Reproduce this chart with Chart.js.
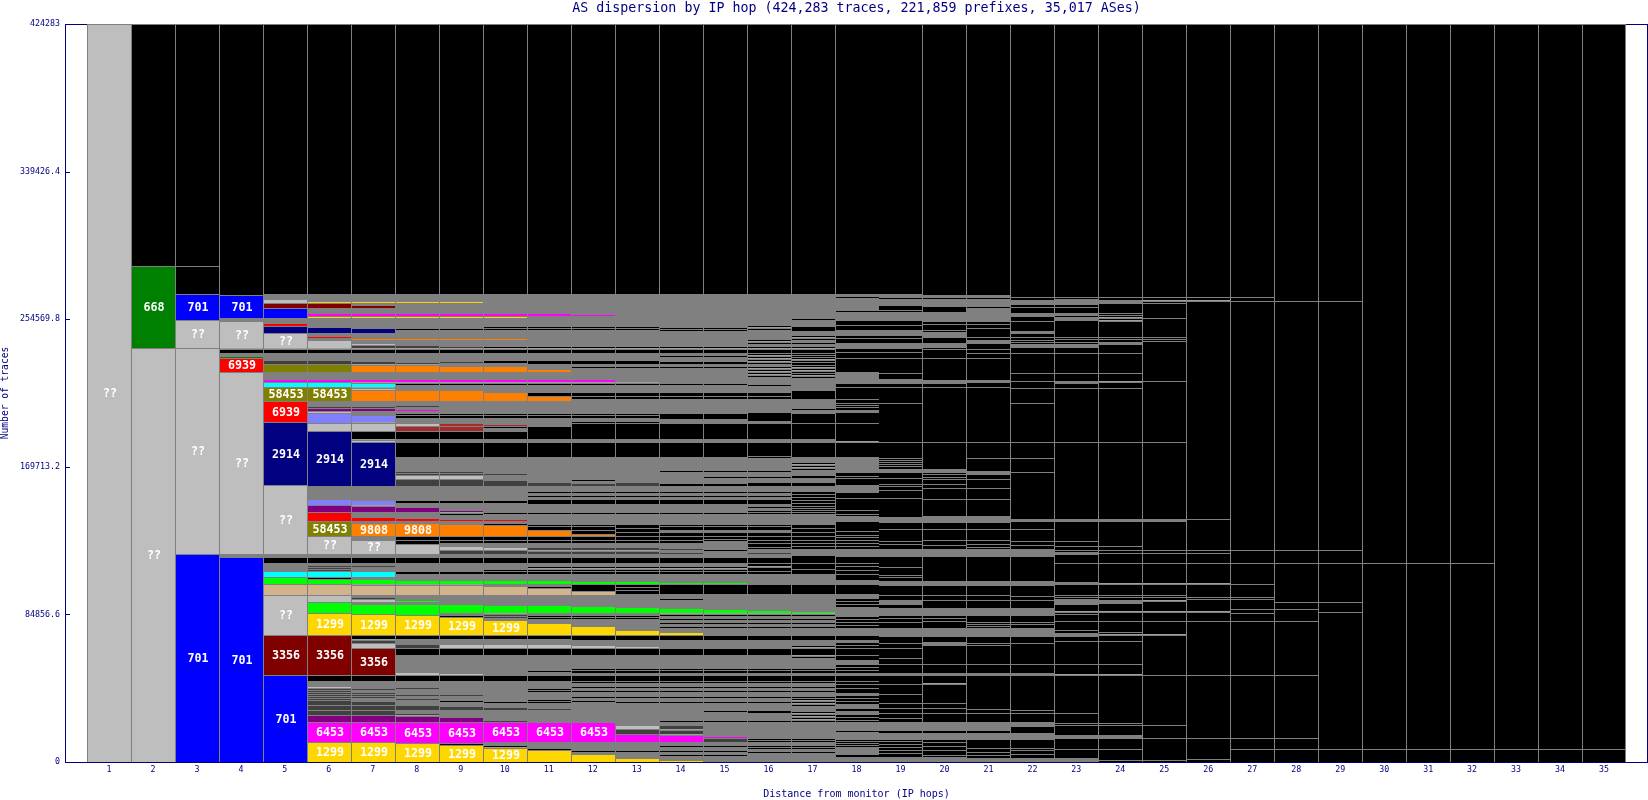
<!DOCTYPE html>
<html>
<head>
<meta charset="utf-8">
<title>AS dispersion by IP hop</title>
<script src="https://cdn.jsdelivr.net/npm/chart.js@4"></script>
<style>
  body { margin: 0; background: #fff; }
  canvas { display: block; }
</style>
</head>
<body>
<canvas id="chart" width="1648" height="800"></canvas>
<script>
const totalTraces = 424283;
const yTicks = [0, 84856.6, 169713.2, 254569.8, 339426.4, 424283];
const hopLabels = ['', '1', '2', '3', '4', '5', '6', '7', '8', '9', '10', '11', '12', '13', '14', '15', '16', '17', '18', '19', '20', '21', '22', '23', '24', '25', '26', '27', '28', '29', '30', '31', '32', '33', '34', '35', ''];

// each hop: AS name, traces, AS name, traces ... from the bottom of the stack up
// g = many tiny ASes, k = one small AS, d/c/l/t/p/v/b = unnamed ASes
const hop1 = ['??', 424283];
const hop2 = ['??', 238050, '668', 47150];
const hop3 = ['701', 119600, '??', 118450, '??', 16100, '701', 14950, 'k', 16100];
const hop4 = ['701', 117875, 'g', 1725, '??', 104650, '6939', 8050, '668', 1150, 'g', 1725, 'k', 2300, 'g', 575, '??', 15525, 'g', 1725, '701', 13225];
const hop5 = ['701', 50025, '3356', 23000, '??', 23000, 't', 6325, 'l', 4025, 'c', 3450, 'g', 4600, 'k', 3450, 'g', 1725, '??', 39675, '2914', 36225, '6939', 12075, '58453', 8050, 'c', 2875, '6453', 1725, 'g', 4025, '58453', 4600, 'd', 2300, 'g', 4025, 'k', 2300, 'g', 575, '??', 8625, '2914', 4025, '6939', 1725, 'g', 2875, '701', 5750, '3356', 2875, '??', 2300, 'g', 2875];
const hop6 = ['1299', 11500, '6453', 11500, 'v', 4025, 'd', 2875, 'd', 2875, 'd', 2875, 'd', 1150, 'd', 1150, 'd', 1150, 'd', 1150, 'd', 1150, 'd', 1150, '??', 1150, 'g', 2875, 'k', 3450, '3356', 23000, '1299', 12650, 'l', 6325, '??', 4025, 't', 6325, 'l', 2875, 'k', 1150, 'c', 3450, 'd', 1150, 'd', 1150, 'd', 1150, 'g', 1150, 'k', 3450, 'g', 1725, '??', 10350, '58453', 8625, '6939', 5175, 'v', 4025, 'p', 3450, 'g', 7475, '2914', 31625, '??', 4600, 'p', 5750, '??', 1150, 'v', 1725, 'd', 1150, 'g', 2875, '58453', 8050, 'c', 2875, '6453', 1725, 'g', 4025, '58453', 4600, 'd', 2300, 'g', 4025, 'k', 2300, 'g', 575, '??', 4600, 'g', 1150, '6939', 1150, 'g', 1725, '2914', 3450, 'g', 5175, '1299', 1150, '6453', 1725, 'g', 2875, '3356', 2875, '1299', 1150, 'g', 4025];
const hop7 = ['1299', 11500, '6453', 11500, 'v', 4025, 'd', 2875, 'd', 2875, 'd', 2300, 'g', 1725, 'd', 1150, 'd', 1150, 'd', 1150, 'g', 1150, 'd', 1150, 'g', 4025, 'k', 3450, '3356', 15525, '??', 2875, 'd', 1725, 'g', 575, 'k', 2300, '1299', 12075, 'l', 5750, 'g', 1150, '??', 1725, 'd', 1150, 'g', 1150, 't', 5750, 'g', 575, 'l', 2875, 'g', 1150, 'c', 3450, 'g', 2300, 'd', 1150, 'g', 1150, 'k', 3450, 'g', 1725, '??', 8050, 'g', 2300, '9808', 7475, 'g', 1150, '6939', 2300, 'g', 2875, 'v', 3450, 'g', 575, 'p', 2875, 'g', 8050, '2914', 25300, '??', 1150, 'g', 575, 'k', 4600, '??', 4600, 'g', 575, 'p', 4025, 'g', 2300, 'v', 1725, 'd', 1150, 'g', 2875, '9808', 6325, '??', 1150, 'g', 575, 'c', 2300, 'g', 575, '6453', 1725, 'g', 4025, '9808', 4025, 'g', 575, 'd', 1725, 'g', 4600, 'k', 2300, 'g', 575, 'd', 1725, '??', 1150, 'g', 1725, '9808', 1150, 'g', 2875, '2914', 2875, 'g', 5750, '1299', 1150, '6453', 1725, 'g', 2875, '3356', 1725, 'g', 1150, '1299', 1150, 'g', 4025];
const hop8 = ['1299', 10925, '6453', 12075, 'v', 3450, 'g', 575, 'd', 1150, 'g', 1725, 'd', 2875, 'g', 2875, 'd', 1150, 'g', 1150, 'd', 1150, 'g', 2875, 'd', 1150, 'g', 3450, 'k', 3450, '??', 1725, 'g', 9775, 'k', 4025, 'd', 2300, 'g', 2875, 'k', 2300, '1299', 11500, 'l', 6325, 'g', 1150, 'l', 1150, 'g', 2875, 't', 5750, 'g', 575, 'l', 2300, 'g', 3450, 'k', 1725, 'g', 4600, 'k', 3450, 'g', 1725, '??', 5750, 'k', 2300, 'k', 2300, '9808', 7475, 'g', 1150, '6939', 1725, 'g', 3450, 'v', 2875, 'g', 2300, 'k', 1725, 'g', 8050, 'd', 4025, '??', 2300, 'd', 1150, 'd', 1150, 'g', 8050, 'k', 8625, 'g', 1725, 'k', 4600, 'b', 2875, '??', 1725, 'g', 2875, 'k', 1725, 'k', 1150, 'g', 1150, '6453', 1150, 'g', 1150, 'd', 1150, 'g', 2300, '9808', 6325, 'g', 2875, 'k', 1150, 'g', 575, '6453', 1725, 'g', 4025, '9808', 4025, 'g', 575, 'd', 1150, 'g', 5175, 'k', 2300, 'g', 575, 'd', 1725, 'g', 2875, '9808', 1150, 'g', 4600, 'k', 1150, 'g', 5750, '1299', 1150, '6453', 1725, 'g', 5750, '1299', 1150, 'g', 4025];
const hop9 = ['1299', 9775, 'k', 1150, '6453', 12075, 'v', 2875, 'g', 4025, 'd', 2300, 'g', 2300, 'k', 1150, 'g', 2300, 'd', 1150, 'g', 7475, 'k', 3450, '??', 1150, 'g', 10350, 'k', 4025, '??', 2300, 'g', 2875, 'k', 2300, '1299', 10350, 'k', 1150, 'g', 1150, 'l', 5175, 'g', 5175, 't', 5750, 'g', 575, 'l', 2300, 'g', 3450, 'k', 1725, 'g', 4600, 'k', 3450, 'g', 1725, 'd', 2300, '??', 2300, 'g', 1725, 'k', 1725, 'k', 2300, '9808', 6900, 'g', 1725, '6939', 1150, 'g', 2300, 'k', 1150, 'g', 575, 'v', 1150, 'g', 4025, 'k', 1725, 'g', 8050, 'd', 4025, '??', 2300, 'd', 1150, 'd', 1150, 'g', 8050, 'k', 8625, 'g', 1725, 'k', 4600, 'b', 2875, 'b', 1725, 'g', 2875, 'k', 1725, 'k', 1150, 'g', 6900, '9808', 6325, 'g', 2875, 'k', 1150, 'g', 575, '6453', 1725, 'g', 4025, '9808', 3450, 'g', 1725, 'd', 1150, 'g', 4600, 'k', 2300, 'g', 575, 'd', 1150, 'g', 3450, '9808', 1150, 'g', 4600, 'k', 1150, 'g', 5750, '1299', 1150, '6453', 1725, 'g', 5750, '1299', 1150, 'g', 4025];
const hop10 = ['1299', 8050, 'g', 575, 'k', 1150, 'g', 1725, '6453', 11500, 'd', 1150, 'g', 5750, 'd', 1725, 'g', 2300, 'k', 1150, 'g', 11500, 'k', 3450, 'g', 11500, 'k', 4025, '??', 2300, 'g', 2875, 'k', 2300, '1299', 8625, 'g', 1150, 'd', 1150, 'd', 1150, 'g', 575, 'l', 4600, 'g', 5750, 't', 5175, 'g', 1150, 'l', 2300, 'g', 3450, 'k', 1725, 'k', 1150, 'g', 3450, 'k', 3450, 'g', 1725, 'd', 2300, '??', 1725, 'g', 2300, 'k', 1725, 'k', 2300, '9808', 6325, 'k', 1150, 'g', 1150, '6939', 1150, 'g', 2875, 'k', 1150, 'g', 5175, 'k', 1725, 'g', 8050, 'd', 3450, 'g', 2875, 'd', 1150, 'g', 9200, 'k', 8625, 'g', 1725, 'k', 4600, 'g', 1725, 'k', 1150, 'b', 1150, 'g', 3450, 'k', 1725, 'k', 1150, 'g', 6900, '9808', 5175, 'g', 4025, 'k', 1150, 'g', 575, '6453', 1725, 'g', 4025, '9808', 3450, 'g', 1725, 'k', 1725, 'g', 4025, 'k', 2300, 'g', 575, 'k', 1150, 'g', 3450, '9808', 1150, 'g', 4600, 'k', 1150, 'k', 1150, 'g', 4600, '1299', 1150, '6453', 1725, 'g', 10925];
const hop11 = ['1299', 6900, 'k', 1150, 'g', 3450, '6453', 11500, 'g', 6900, 'd', 1150, 'g', 2875, 'k', 1150, 'k', 1150, 'g', 4025, 'k', 1150, 'k', 1150, 'g', 4025, 'k', 3450, 'g', 1725, 'k', 1150, 'g', 8625, 'k', 4025, '??', 2300, 'g', 2875, 'k', 2300, '1299', 6900, 'g', 2300, 'k', 1150, 'k', 1150, 'g', 1150, 'l', 4600, 'g', 5750, 't', 4025, 'k', 1150, 'g', 1150, 'l', 2300, 'g', 3450, 'k', 1725, 'k', 1150, 'g', 575, 'k', 1150, 'g', 1725, 'k', 3450, 'g', 1725, 'd', 1725, 'g', 575, 'd', 1725, 'g', 2300, 'k', 1725, 'k', 2300, '9808', 3450, 'k', 2300, 'k', 1150, 'g', 5750, 'k', 1150, 'g', 4600, 'k', 2875, 'g', 1150, 'k', 1150, 'g', 1150, 'k', 1150, 'g', 2875, 'd', 2300, 'g', 14375, 'k', 8625, 'g', 1725, 'k', 7475, 'g', 4600, 'k', 1725, 'k', 1150, 'g', 6900, '9808', 2875, 'k', 2300, 'g', 4025, 'k', 1150, 'g', 575, '6453', 1725, 'g', 4025, '9808', 1725, 'g', 2875, 'k', 2300, 'g', 4025, 'k', 2300, 'g', 575, 'k', 1150, 'g', 9200, 'k', 1150, 'k', 1150, 'g', 5750, '6453', 1725, 'g', 10925];
const hop12 = ['1299', 4600, 'g', 1150, 'k', 1150, 'g', 4600, '6453', 11500, 'g', 11500, 'k', 1150, 'g', 1150, 'k', 1150, 'g', 2300, 'k', 1150, 'g', 1150, 'k', 1150, 'g', 1725, 'k', 1150, 'k', 3450, 'g', 1150, 'k', 1725, 'k', 1150, 'g', 7475, 'k', 4025, '??', 1725, 'g', 2875, 'k', 2875, '1299', 5175, 'g', 4025, 'k', 1150, 'k', 1150, 'g', 1150, 'l', 4025, 'g', 6325, 't', 2300, 'k', 4025, 'l', 1725, 'g', 4025, 'k', 1725, 'k', 1150, 'g', 575, 'k', 1150, 'g', 1725, 'k', 3450, 'g', 1725, 'd', 1725, 'g', 575, 'd', 1725, 'g', 2300, 'k', 1725, 'k', 2300, '9808', 1150, 'k', 2300, 'k', 2300, 'k', 1150, 'g', 5750, 'k', 1150, 'g', 4600, 'k', 2875, 'g', 1150, 'k', 1150, 'g', 1150, 'k', 1150, 'g', 2875, 'd', 1725, 'g', 1150, 'k', 1150, 'g', 12650, 'k', 8625, 'g', 1725, 'k', 9200, 'k', 1150, 'g', 1725, 'k', 1725, 'k', 1150, 'g', 8050, 'k', 1725, 'k', 2300, 'g', 4025, 'k', 1150, 'g', 575, '6453', 1725, 'g', 6325, 'k', 1150, 'g', 1150, 'k', 2300, 'g', 4025, 'k', 2300, 'g', 575, 'k', 1150, 'g', 9200, 'k', 1150, 'k', 1150, 'g', 5750, '6453', 1150, 'g', 11500];
const hop13 = ['1299', 2300, 'g', 3450, 'k', 1150, 'g', 4600, '6453', 4600, 'd', 2875, '??', 2300, 'g', 12650, 'k', 1150, 'g', 1725, 'k', 1150, 'g', 2300, 'k', 1150, 'g', 1150, 'k', 1150, 'g', 1725, 'k', 1150, 'k', 3450, 'g', 1150, 'k', 1725, 'k', 1150, 'g', 7475, 'k', 4025, '??', 1150, 'g', 3450, 'k', 2875, '1299', 2875, 'g', 6325, 'k', 1150, 'k', 1150, 'g', 1150, 'l', 3450, 'g', 7475, 'k', 2300, 'k', 1725, 'k', 1725, 'l', 1725, 'g', 4025, 'k', 1725, 'k', 1150, 'g', 575, 'k', 1150, 'g', 1725, 'k', 3450, 'g', 1725, 'd', 1725, 'g', 575, 'd', 1725, 'g', 2300, 'k', 1725, 'k', 2300, 'k', 2300, 'k', 2300, 'k', 2300, 'g', 5750, 'k', 1150, 'g', 4600, 'k', 2875, 'g', 1150, 'k', 1150, 'g', 1150, 'k', 1150, 'g', 2875, 'd', 2300, 'g', 14375, 'k', 8625, 'g', 1725, 'k', 9200, 'k', 1150, 'g', 1725, 'k', 1725, 'k', 1150, 'g', 8050, 'k', 1725, 'k', 2300, 'g', 4025, 'k', 1150, 'g', 575, 'g', 8050, 'k', 1150, 'g', 1150, 'k', 2300, 'g', 4025, 'k', 2300, 'g', 575, 'k', 1150, 'g', 9200, 'k', 1150, 'k', 1150, 'g', 18400];
const hop14 = ['1299', 1150, 'g', 2300, 'k', 1150, 'g', 1150, 'k', 1150, 'g', 1725, 'k', 1150, 'g', 1725, '6453', 4025, 'g', 575, 'd', 2300, 'g', 575, 'd', 2300, 'g', 1725, 'k', 1150, 'g', 9775, 'k', 1150, 'g', 1725, 'k', 1150, 'g', 2300, 'k', 1150, 'g', 1150, 'k', 1150, 'g', 1725, 'k', 1150, 'k', 3450, 'g', 1150, 'k', 1725, 'k', 1150, 'g', 7475, 'k', 4025, 'g', 4600, 'k', 2875, '1299', 1725, 'g', 2300, 'k', 1150, 'g', 1150, 'k', 1150, 'g', 1150, 'k', 1150, 'g', 1150, 'k', 1150, 'g', 575, 'l', 2875, 'g', 4600, 'k', 1150, 'g', 2300, 'k', 5750, 'l', 1150, 'g', 4600, 'k', 1725, 'k', 1150, 'g', 575, 'k', 1150, 'g', 1725, 'k', 3450, 'g', 1725, 'd', 1150, 'g', 1150, 'd', 1150, 'g', 2875, 'k', 1725, 'k', 2300, 'k', 2300, 'g', 1150, 'k', 2300, 'k', 1150, 'g', 5750, 'k', 1150, 'g', 4600, 'k', 2875, 'g', 1150, 'k', 1150, 'g', 1150, 'k', 1150, 'g', 2875, 'k', 1725, 'g', 6325, 'k', 1150, 'g', 7475, 'k', 8625, 'g', 1725, 'k', 9200, 'g', 2300, 'k', 3450, 'g', 8050, 'k', 1725, 'k', 2300, 'g', 4025, 'k', 1150, 'g', 8625, 'k', 1150, 'g', 1150, 'k', 1725, 'g', 2300, 'k', 1150, 'g', 1150, 'k', 2300, 'g', 575, 'k', 1150, 'g', 8625, 'k', 1150, 'k', 1150, 'g', 18975];
const hop15 = ['g', 3450, 'k', 1150, 'g', 1150, 'k', 1150, 'g', 1725, 'k', 1150, 'g', 1725, 'd', 2300, '6453', 1150, 'g', 8050, 'k', 1150, 'g', 4600, 'k', 1150, 'g', 4025, 'k', 1150, 'g', 1725, 'k', 1150, 'g', 2300, 'k', 1150, 'g', 1150, 'k', 1150, 'g', 1725, 'k', 1150, 'k', 3450, 'g', 1150, 'k', 1725, 'k', 1150, 'g', 7475, 'k', 4025, 'g', 4600, 'k', 2875, 'g', 4025, 'k', 1150, 'g', 1150, 'k', 1150, 'g', 1150, 'k', 1150, 'g', 1150, 'k', 1150, 'g', 575, 'l', 2300, 'g', 8625, 'k', 5750, 'l', 1150, 'g', 4600, 'k', 1725, 'k', 1150, 'g', 575, 'k', 1150, 'g', 1725, 'k', 3450, 'g', 1725, 'g', 1725, 'k', 1150, 'g', 2300, 'g', 2300, 'k', 1150, 'k', 1725, 'k', 2300, 'g', 1150, 'k', 2300, 'k', 1150, 'g', 5750, 'k', 1150, 'g', 4600, 'k', 2875, 'g', 1150, 'k', 1150, 'g', 1150, 'k', 1150, 'g', 2875, 'k', 1725, 'g', 2875, 'k', 1150, 'g', 2300, 'k', 1150, 'g', 7475, 'k', 8625, 'g', 1725, 'k', 9200, 'g', 2300, 'k', 3450, 'g', 8050, 'k', 1725, 'k', 2300, 'g', 4025, 'k', 1150, 'g', 8625, 'k', 1150, 'g', 1150, 'k', 1725, 'g', 2300, 'k', 1150, 'g', 1150, 'k', 2300, 'g', 575, 'k', 1150, 'g', 8625, 'k', 1150, 'k', 1150, 'g', 18975];
const hop16 = ['g', 5175, 'k', 1150, 'g', 1150, 'k', 1150, 'k', 1150, 'g', 1725, 'k', 1150, 'k', 1150, 'g', 9200, 'k', 1150, 'g', 4025, 'k', 1725, 'g', 4025, 'k', 1150, 'g', 1725, 'k', 1150, 'g', 2300, 'k', 1150, 'g', 1150, 'k', 1150, 'g', 1725, 'k', 1150, 'k', 3450, 'g', 1150, 'k', 1725, 'k', 1150, 'g', 7475, 'k', 4025, 'g', 4600, 'k', 2875, 'g', 4025, 'k', 1150, 'g', 1150, 'k', 1150, 'g', 1150, 'k', 1150, 'g', 1150, 'k', 1150, 'g', 575, 'l', 1725, 'g', 9200, 'k', 5750, 'g', 5750, 'k', 1725, 'k', 2300, 'g', 575, 'k', 1725, 'k', 3450, 'g', 1725, 'd', 1150, 'g', 1725, 'k', 1150, 'k', 2300, 'k', 1725, 'k', 2300, 'k', 2300, 'g', 1150, 'k', 2300, 'k', 1150, 'g', 5750, 'k', 1150, 'k', 1150, 'g', 1150, 'k', 1150, 'g', 1150, 'k', 2875, 'g', 1150, 'k', 1150, 'g', 1150, 'k', 1150, 'g', 2875, 'k', 2300, 'g', 2300, 'k', 1150, 'g', 2300, 'k', 1150, 'g', 6900, 'k', 1150, 'k', 8050, 'g', 1725, 'k', 9200, 'g', 1150, 'k', 5175, 'g', 7475, 'k', 1725, 'k', 2300, 'g', 3450, 'k', 1150, 'g', 4025, 'k', 1150, 'g', 575, 'k', 1150, 'g', 575, 'k', 1150, 'g', 575, 'k', 1150, 'g', 1150, 'k', 1150, 'g', 575, 'k', 1150, 'g', 575, 'k', 1150, 'g', 575, 'k', 1150, 'k', 2300, 'g', 575, 'k', 1150, 'g', 1150, 'k', 1150, 'g', 575, 'k', 1150, 'g', 5175, 'k', 1150, 'g', 575, 'k', 1150, 'g', 17825];
const hop17 = ['g', 5175, 'k', 1150, 'g', 1150, 'k', 1150, 'k', 1150, 'g', 1725, 'k', 1150, 'k', 1150, 'g', 9200, 'k', 1150, 'g', 575, 'k', 1150, 'g', 575, 'k', 1150, 'g', 575, 'k', 1150, 'g', 2875, 'k', 1150, 'g', 575, 'k', 1150, 'g', 575, 'k', 1150, 'k', 1150, 'g', 2300, 'k', 1150, 'g', 1150, 'k', 1150, 'g', 1725, 'k', 1150, 'k', 3450, 'g', 1150, 'k', 1725, 'k', 1150, 'g', 5750, 'k', 1150, 'g', 575, 'k', 4025, 'g', 575, 'k', 1150, 'g', 2875, 'k', 2875, 'g', 4025, 'k', 1150, 'g', 1150, 'k', 1150, 'g', 1150, 'k', 1150, 'g', 1150, 'k', 1150, 'g', 575, 'l', 1150, 'g', 9775, 'k', 5750, 'g', 5750, 'k', 2875, 'k', 3450, 'k', 4600, 'g', 3450, 'k', 1725, 'k', 1725, 'k', 1725, 'k', 2300, 'k', 2300, 'k', 2300, 'k', 2300, 'g', 5750, 'k', 1150, 'k', 1150, 'k', 1150, 'k', 1150, 'k', 1725, 'k', 1725, 'k', 1725, 'k', 1725, 'k', 1725, 'g', 2875, 'k', 2300, 'g', 2300, 'k', 1725, 'g', 2875, 'k', 1150, 'g', 575, 'k', 1150, 'g', 575, 'k', 1150, 'g', 2875, 'k', 8625, 'g', 1725, 'k', 9200, 'k', 5750, 'g', 1725, 'k', 1150, 'g', 5175, 'k', 5175, 'g', 6900, 'k', 1150, 'g', 575, 'k', 1150, 'k', 1150, 'g', 575, 'k', 1150, 'g', 575, 'k', 1150, 'k', 1725, 'k', 1150, 'g', 575, 'k', 1150, 'k', 1150, 'k', 1150, 'k', 2300, 'g', 575, 'k', 1150, 'g', 1150, 'k', 1150, 'g', 1150, 'k', 1150, 'g', 575, 'k', 1150, 'g', 2300, 'k', 2875, 'g', 3450, 'k', 1150, 'g', 13800];
const hop18 = ['g', 2875, 'k', 1725, 'g', 4025, 'k', 1150, 'k', 1150, 'k', 1150, 'k', 1150, 'g', 4025, 'k', 1150, 'g', 4600, 'k', 1150, 'k', 1725, 'k', 1725, 'g', 1725, 'k', 1725, 'g', 2300, 'k', 1725, 'k', 1725, 'k', 1725, 'g', 1150, 'k', 2875, 'k', 2300, 'k', 1725, 'k', 3450, 'g', 1150, 'k', 1725, 'k', 1725, 'k', 1725, 'g', 2300, 'k', 2875, 'k', 4025, 'k', 1725, 'k', 1725, 'g', 1150, 'k', 2875, 'g', 4025, 'k', 1725, 'k', 1725, 'k', 1725, 'k', 1725, 'g', 5175, 'k', 1725, 'k', 1725, 'k', 1725, 'g', 2300, 'k', 5750, 'g', 2300, 'k', 3450, 'k', 2300, 'k', 2300, 'k', 1725, 'k', 4025, 'g', 4025, 'k', 1725, 'k', 1725, 'k', 1725, 'k', 1725, 'k', 1150, 'k', 2300, 'k', 5750, 'g', 2875, 'k', 1150, 'k', 2300, 'k', 6900, 'k', 3450, 'g', 4025, 'k', 4025, 'k', 1150, 'k', 2300, 'g', 2300, 'g', 6325, 'k', 8625, 'g', 575, 'k', 10350, 'k', 6325, 'g', 1150, 'k', 1725, 'k', 1150, 'k', 1150, 'k', 2300, 'k', 6900, 'k', 2300, 'g', 2300, 'g', 4025, 'k', 8050, 'k', 3450, 'k', 2300, 'g', 2875, 'k', 2875, 'k', 1725, 'g', 2875, 'k', 2875, 'k', 2875, 'g', 4600, 'k', 1150, 'g', 6900, 'k', 1150, 'g', 1150];
const hop19 = ['g', 2875, 'k', 2300, 'k', 1725, 'k', 1725, 'k', 1725, 'k', 1725, 'k', 1150, 'g', 3450, 'k', 1725, 'g', 4600, 'k', 2300, 'k', 2875, 'k', 2875, 'k', 2875, 'k', 5175, 'k', 5750, 'k', 5175, 'g', 1150, 'k', 5175, 'k', 3450, 'k', 5750, 'k', 2875, 'k', 4025, 'g', 4600, 'k', 3450, 'k', 2300, 'k', 1725, 'g', 4025, 'k', 2300, 'g', 2300, 'k', 2875, 'k', 5750, 'g', 2300, 'k', 2300, 'k', 1150, 'k', 4600, 'k', 6325, 'g', 4025, 'k', 2875, 'k', 1725, 'k', 6900, 'k', 4025, 'g', 2875, 'k', 10925, 'k', 4600, 'k', 2300, 'k', 1150, 'k', 3450, 'k', 3450, 'g', 1725, 'k', 1725, 'k', 1150, 'k', 1150, 'k', 1150, 'k', 1150, 'k', 9200, 'k', 22425, 'k', 9200, 'k', 2300, 'g', 2300, 'k', 3450, 'k', 8625, 'k', 3450, 'k', 2300, 'g', 2875, 'k', 2875, 'k', 1725, 'g', 2875, 'k', 2875, 'k', 2875, 'g', 4600, 'k', 1150, 'k', 2875, 'g', 3450, 'k', 1150, 'g', 1725];
const hop20 = ['g', 2875, 'k', 1150, 'k', 2875, 'k', 2300, 'k', 2300, 'k', 1725, 'g', 3450, 'k', 1725, 'g', 4600, 'k', 5175, 'k', 2875, 'k', 2875, 'k', 10925, 'g', 575, 'k', 4600, 'g', 1150, 'k', 5175, 'k', 10925, 'g', 1725, 'k', 3450, 'g', 4600, 'k', 4025, 'k', 1725, 'k', 1725, 'g', 4025, 'k', 4600, 'k', 2875, 'k', 5750, 'g', 2300, 'k', 14375, 'g', 4025, 'k', 2300, 'k', 2875, 'k', 6325, 'k', 4025, 'g', 3450, 'k', 9775, 'k', 6325, 'k', 2300, 'k', 2875, 'k', 1150, 'k', 1725, 'k', 1150, 'g', 1725, 'k', 15525, 'k', 31625, 'k', 2300, 'g', 1725, 'k', 12650, 'k', 5175, 'k', 1150, 'g', 2300, 'k', 3450, 'g', 2875, 'k', 1150, 'k', 3450, 'k', 1725, 'g', 5175, 'k', 3450, 'g', 4025, 'k', 1150, 'g', 1150];
const hop21 = ['g', 2300, 'k', 1725, 'k', 1725, 'k', 2300, 'k', 5175, 'g', 3450, 'k', 1725, 'g', 4600, 'k', 5175, 'k', 2300, 'k', 19550, 'g', 1150, 'k', 5175, 'k', 10925, 'k', 1150, 'k', 4025, 'g', 4600, 'k', 1150, 'k', 1150, 'k', 1150, 'k', 4025, 'g', 4025, 'k', 4600, 'k', 2875, 'k', 5750, 'g', 2300, 'k', 14375, 'g', 4025, 'k', 1150, 'k', 1725, 'k', 2300, 'k', 6325, 'k', 4025, 'g', 3450, 'k', 9775, 'k', 6325, 'k', 5175, 'k', 2875, 'g', 1725, 'k', 7475, 'k', 9200, 'k', 31625, 'k', 2875, 'g', 1150, 'k', 12650, 'k', 2875, 'k', 2300, 'k', 3450, 'g', 1725, 'k', 1725, 'k', 5175, 'k', 2300, 'k', 1725, 'g', 5175, 'g', 2300, 'k', 1150, 'g', 4025, 'k', 1150, 'g', 1150];
const hop22 = ['g', 2300, 'k', 2300, 'k', 2300, 'k', 1150, 'k', 5175, 'g', 3450, 'k', 4025, 'g', 2300, 'k', 5175, 'k', 1725, 'k', 20125, 'g', 1150, 'k', 5175, 'k', 12075, 'k', 4025, 'g', 4600, 'k', 2300, 'k', 1150, 'k', 4025, 'g', 4025, 'k', 4600, 'k', 2300, 'k', 6325, 'g', 2300, 'k', 14375, 'g', 4025, 'k', 2300, 'k', 2300, 'k', 6900, 'k', 4600, 'g', 1150, 'k', 27025, 'k', 8050, 'k', 9200, 'k', 22425, 'k', 8625, 'k', 4025, 'k', 4600, 'k', 11500, 'k', 3450, 'g', 1725, 'k', 1150, 'k', 1150, 'k', 1725, 'k', 2300, 'g', 1150, 'k', 5750, 'k', 2875, 'g', 1725, 'k', 3450, 'k', 1725, 'g', 2300, 'k', 1725];
const hop23 = ['g', 2300, 'k', 5175, 'k', 6325, 'g', 1725, 'k', 5750, 'k', 1150, 'k', 5750, 'k', 21850, 'g', 575, 'k', 5750, 'k', 13225, 'k', 2875, 'g', 1725, 'k', 1725, 'k', 5175, 'k', 4025, 'k', 1150, 'g', 575, 'k', 4025, 'g', 2875, 'k', 1150, 'k', 1150, 'k', 6325, 'g', 1150, 'k', 10925, 'k', 5175, 'g', 1150, 'k', 1150, 'k', 2300, 'k', 2875, 'k', 11500, 'g', 1150, 'k', 44275, 'k', 31050, 'k', 2875, 'g', 1150, 'k', 4600, 'k', 11500, 'k', 3450, 'g', 1725, 'k', 1150, 'k', 1725, 'k', 1150, 'k', 9775, 'g', 1725, 'k', 1150, 'g', 1150, 'k', 3450, 'k', 1725, 'g', 2875, 'k', 1150];
const hop24 = ['k', 1150, 'k', 6325, 'k', 6325, 'g', 1725, 'k', 5750, 'k', 1150, 'k', 27600, 'g', 575, 'k', 5750, 'k', 13225, 'k', 3450, 'g', 575, 'k', 1150, 'k', 6325, 'k', 5175, 'g', 575, 'k', 4600, 'g', 1725, 'k', 1725, 'k', 1150, 'k', 6325, 'g', 575, 'k', 11500, 'k', 5750, 'k', 1725, 'k', 2300, 'k', 14375, 'g', 1150, 'k', 44275, 'k', 31050, 'k', 3450, 'g', 575, 'k', 4600, 'k', 11500, 'k', 5175, 'g', 1150, 'k', 1725, 'k', 1150, 'k', 9200, 'g', 575, 'k', 1150, 'g', 575, 'k', 1150, 'k', 1150, 'k', 5750, 'g', 1725, 'k', 1725];
const hop25 = ['k', 1150, 'k', 12650, 'k', 7475, 'k', 28750, 'k', 23000, 'g', 575, 'k', 7475, 'k', 5175, 'g', 575, 'k', 5750, 'g', 575, 'k', 1725, 'k', 1150, 'k', 6325, 'g', 575, 'k', 11500, 'k', 5750, 'k', 1725, 'k', 16675, 'g', 1150, 'k', 44275, 'k', 35075, 'k', 23000, 'k', 1150, 'k', 1150, 'k', 10925, 'k', 8625, 'k', 1150, 'g', 575, 'k', 1725];
const hop26 = ['k', 1725, 'k', 12075, 'k', 36225, 'k', 31050, 'k', 5175, 'g', 575, 'k', 6900, 'k', 1150, 'k', 7475, 'g', 575, 'k', 11500, 'k', 5750, 'k', 1725, 'k', 17825, 'k', 125350, 'g', 575, 'k', 1725];
const hop27 = ['k', 7475, 'k', 6325, 'k', 36225, 'k', 31050, 'k', 4600, 'k', 2300, 'k', 5750, 'k', 1150, 'k', 7475, 'k', 12075, 'k', 7475, 'k', 143175, 'k', 2300];
const hop28 = ['k', 7475, 'k', 6325, 'k', 36225, 'k', 31050, 'k', 6900, 'k', 4025, 'k', 22425, 'k', 7475, 'k', 143175];
const hop29 = ['k', 7475, 'k', 78775, 'k', 5750, 'k', 22425, 'k', 7475, 'k', 143175];
const hop30 = ['k', 7475, 'k', 106950];
const hop31 = ['k', 7475, 'k', 106950];
const hop32 = ['k', 7475, 'k', 106950];
const hop33 = ['k', 7475];
const hop34 = ['k', 7475];
const hop35 = ['k', 7475];

const hops = [hop1, hop2, hop3, hop4, hop5, hop6, hop7, hop8, hop9, hop10, hop11, hop12, hop13, hop14, hop15, hop16, hop17, hop18, hop19, hop20, hop21, hop22, hop23, hop24, hop25, hop26, hop27, hop28, hop29, hop30, hop31, hop32, hop33, hop34, hop35];

const asColors = {
  '??': '#bebebe', '668': '#008000', '701': '#0000ff', '1299': '#ffd700', '2914': '#000080',
  '3356': '#800000', '6453': '#ff00ff', '6939': '#ff0000', '9808': '#ff8000', '58453': '#808000',
  g: '#808080', k: '#000000', d: '#404040', c: '#00ffff', l: '#00ff00', t: '#d2b48c',
  p: '#8080ff', v: '#800080', b: '#a52a2a'
};
const navy = '#000080';
const labelMinTraces = 7400;
const monoFont = '"DejaVu Sans Mono", monospace';

const datasets = [];
hops.forEach((list, h) => {
  const hop = String(h + 1);
  let sum = 0;
  const addBar = (name, value) => {
    datasets.push({
      data: [{ x: hop, y: value }],
      backgroundColor: asColors[name],
      borderColor: '#808080',
      borderWidth: { top: 1, left: 1, bottom: 0, right: h === 34 ? 1 : 0 },
      asName: name
    });
  };
  for (let i = 0; i < list.length; i += 2) {
    addBar(list[i], list[i + 1]);
    sum += list[i + 1];
  }
  // the part of the trace total not reached at this hop
  if (sum < totalTraces) addBar('k', totalTraces - sum);
});

// keep every bar edge on a whole pixel, the way the picture has them
const snapBars = {
  id: 'snapBars',
  afterDatasetsUpdate(chart) {
    chart.getSortedVisibleDatasetMetas().forEach(meta => {
      meta.data.forEach(bar => {
        bar.x = Math.round(bar.x);
        bar.y = Math.round(bar.y);
        bar.base = Math.round(bar.base);
      });
    });
  }
};

// blue box round the plot and short inward ticks on the y axis
const plotFrame = {
  id: 'plotFrame',
  beforeDatasetsDraw(chart) {
    const { ctx, chartArea: a, scales } = chart;
    ctx.save();
    ctx.strokeStyle = navy;
    ctx.lineWidth = 1;
    ctx.strokeRect(a.left + 0.5, a.top + 0.5, a.right - a.left - 1, a.bottom - a.top);
    scales.y.ticks.forEach((t, i) => {
      const y = Math.round(scales.y.getPixelForTick(i)) + 0.5;
      ctx.beginPath();
      ctx.moveTo(a.left, y);
      ctx.lineTo(a.left + 5, y);
      ctx.stroke();
    });
    ctx.restore();
  }
};

const asLabels = {
  id: 'asLabels',
  afterDatasetsDraw(chart) {
    const { ctx } = chart;
    ctx.save();
    ctx.font = 'bold 11.7px ' + monoFont;
    ctx.fillStyle = '#fff';
    ctx.textAlign = 'center';
    ctx.textBaseline = 'middle';
    chart.data.datasets.forEach((ds, i) => {
      const isAs = ds.asName === '??' || /^\d+$/.test(ds.asName);
      if (!isAs || ds.data[0].y < labelMinTraces) return;
      const bar = chart.getDatasetMeta(i).data[0];
      ctx.fillText(ds.asName, bar.x + 1, (bar.y + bar.base) / 2 + 1);
    });
    ctx.restore();
  }
};

new Chart(document.getElementById('chart'), {
  type: 'bar',
  data: { labels: hopLabels, datasets },
  plugins: [snapBars, plotFrame, asLabels],
  options: {
    responsive: false,
    animation: false,
    events: [],
    layout: { padding: 0 },
    barThickness: 44,
    borderSkipped: false,
    inflateAmount: 0,
    plugins: {
      legend: { display: false },
      tooltip: { enabled: false },
      title: {
        display: true,
        text: 'AS dispersion by IP hop (424,283 traces, 221,859 prefixes, 35,017 ASes)',
        color: navy,
        fullSize: false,
        font: { family: monoFont, size: 13.3, weight: 'normal', lineHeight: 1 },
        padding: { top: 2, bottom: 8.7 }
      }
    },
    scales: {
      x: {
        stacked: true,
        offset: false,
        grid: { display: false, tickLength: 0 },
        border: { display: false },
        afterFit: s => { s.height = 38; s.paddingLeft = 0; s.paddingRight = 0; },
        ticks: {
          color: navy,
          autoSkip: false,
          maxRotation: 0,
          padding: 3,
          font: { family: monoFont, size: 8.3 }
        },
        title: {
          display: true,
          text: 'Distance from monitor (IP hops)',
          color: navy,
          padding: 0,
          font: { family: monoFont, size: 10 }
        }
      },
      y: {
        stacked: true,
        min: 0,
        max: totalTraces,
        grid: { display: false, tickLength: 0 },
        border: { display: false },
        afterFit: s => { s.width = 65; s.paddingTop = 0; s.paddingBottom = 0; },
        afterBuildTicks: s => { s.ticks = yTicks.map(v => ({ value: v })); },
        ticks: {
          color: navy,
          padding: 5,
          font: { family: monoFont, size: 8.3 },
          callback: v => String(v)
        },
        title: {
          display: true,
          text: 'Number of traces',
          color: navy,
          padding: 0,
          font: { family: monoFont, size: 9.6 }
        }
      }
    }
  }
});
</script>
</body>
</html>
